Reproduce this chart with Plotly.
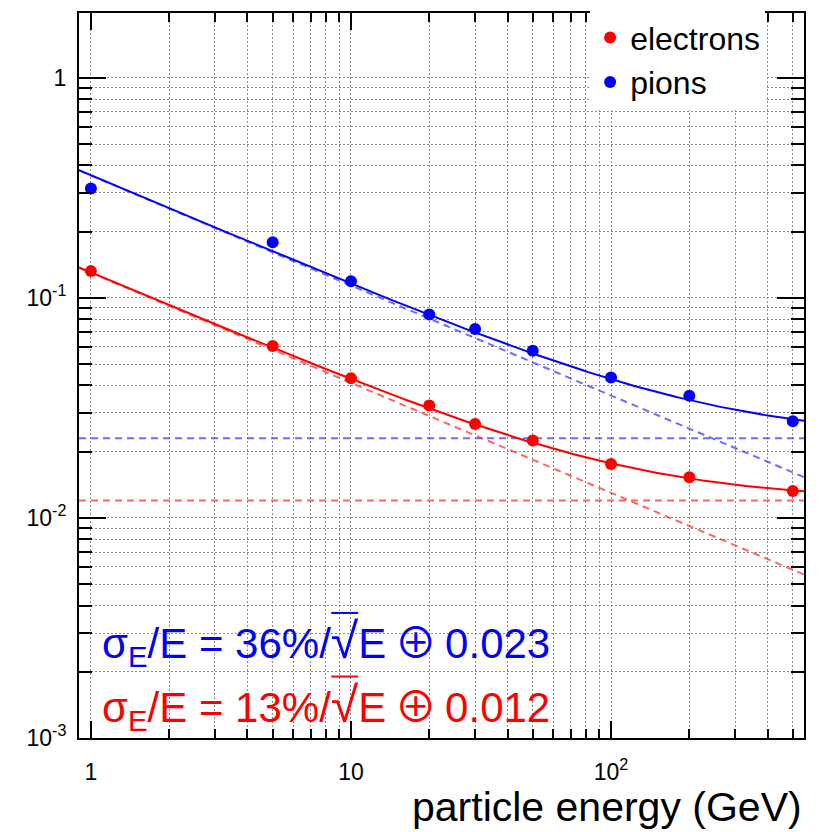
import numpy as np
import plotly.graph_objects as go

# Beam energies (GeV) and measured relative energy resolution
energy = [1, 5, 10, 20, 30, 50, 100, 200, 500]
res_electrons = [0.1323, 0.0604, 0.0431, 0.0324, 0.0267, 0.0225, 0.0176, 0.0153, 0.01325]
res_pions = [0.314, 0.179, 0.119, 0.0840, 0.0722, 0.0575, 0.0435, 0.0359, 0.0275]

# Fit parameters: sigma_E/E = a/sqrt(E) (+) b
fit_electrons = {"a": 0.13, "b": 0.012}
fit_pions = {"a": 0.36, "b": 0.023}

x_min, x_max = 0.9, 552.0
y_min, y_max = 1e-3, 1.97

major_x = [1, 10, 100]
major_x_text = ["1", "10", "10<sup>2</sup>"]
minor_x = [2, 3, 4, 5, 6, 7, 8, 9, 20, 30, 40, 50, 60, 70, 80, 90, 200, 300, 400, 500]
major_y = [1e-3, 1e-2, 1e-1, 1]
major_y_text = ["10<sup>-3</sup>", "10<sup>-2</sup>", "10<sup>-1</sup>", "1"]
minor_y = [m * d for d in (1e-3, 1e-2, 1e-1) for m in range(2, 10)]

RED = "#ff0000"
BLUE = "#0000ff"
FONT = "Liberation Sans, Arial, Helvetica, sans-serif"

e_fine = np.logspace(np.log10(x_min), np.log10(x_max), 300)

fig = go.Figure()

for fit, solid, light in ((fit_pions, BLUE, "rgba(60,60,255,0.75)"),
                          (fit_electrons, RED, "rgba(255,50,50,0.75)")):
    stoch = fit["a"] / np.sqrt(e_fine)
    const = np.full_like(e_fine, fit["b"])
    total = np.sqrt(stoch ** 2 + const ** 2)
    for comp in (stoch, const):
        fig.add_trace(go.Scatter(x=e_fine, y=comp, mode="lines", showlegend=False,
                                 hoverinfo="skip",
                                 line=dict(color=light, width=2, dash="7px,5px")))
    fig.add_trace(go.Scatter(x=e_fine, y=total, mode="lines", showlegend=False,
                             hoverinfo="skip", line=dict(color=solid, width=2)))

fig.add_trace(go.Scatter(x=energy, y=res_electrons, mode="markers", name="electrons",
                         marker=dict(color=RED, size=12)))
fig.add_trace(go.Scatter(x=energy, y=res_pions, mode="markers", name="pions",
                         marker=dict(color=BLUE, size=12)))

grid = dict(gridcolor="#8c8c8c", gridwidth=1, griddash="2px,2px")

fig.update_xaxes(
    type="log", range=[np.log10(x_min), np.log10(x_max)],
    tickmode="array", tickvals=major_x, ticktext=major_x_text,
    ticks="inside", ticklen=17, tickwidth=1.5, tickcolor="black",
    showline=True, linecolor="black", linewidth=2, mirror="allticks",
    showgrid=True, zeroline=False, ticklabelstandoff=12,
    tickfont=dict(family=FONT, size=23, color="black"),
    minor=dict(tickmode="array", tickvals=minor_x, ticks="inside", ticklen=9,
               tickwidth=1.5, tickcolor="black", showgrid=True, **grid),
    **grid,
)
fig.update_yaxes(
    type="log", range=[np.log10(y_min), np.log10(y_max)],
    tickmode="array", tickvals=major_y, ticktext=major_y_text,
    ticks="inside", ticklen=27, tickwidth=1.5, tickcolor="black",
    showline=True, linecolor="black", linewidth=2, mirror="allticks",
    showgrid=True, zeroline=False, ticklabelstandoff=6,
    tickfont=dict(family=FONT, size=23, color="black"),
    minor=dict(tickmode="array", tickvals=minor_y, ticks="inside", ticklen=13,
               tickwidth=1.5, tickcolor="black", showgrid=True, **grid),
    **grid,
)


def resolution_label(fit):
    """Fit formula text: sigma_E/E = a/sqrt(E) (+) b."""
    return ("σ<sub>E</sub>/E = %d%%/<span style='font-size:50px'>√</span>E\u2009"
            "<span style=\"font-family:'Noto Sans CJK SC';font-size:42px\">⊕</span>\u2009%.3f"
            % (round(fit["a"] * 100), fit["b"]))


label_rows = [(fit_pions, BLUE, 0.134, 0.1725), (fit_electrons, RED, 0.045, 0.0848)]
for fit, color, ypos, bar_y in label_rows:
    fig.add_annotation(text=resolution_label(fit), xref="paper", yref="paper",
                       x=0.029, y=ypos, xanchor="left", yanchor="middle", showarrow=False,
                       font=dict(family=FONT, size=42, color=color))
    # vinculum of the square-root sign
    fig.add_shape(type="line", xref="paper", yref="paper",
                  x0=0.348, x1=0.385, y0=bar_y, y1=bar_y,
                  line=dict(color=color, width=2))

fig.add_annotation(text="particle energy (GeV)", xref="paper", yref="paper",
                   x=1.0, y=-0.095, xanchor="right", yanchor="middle", showarrow=False,
                   font=dict(family=FONT, size=41, color="black"))

fig.update_layout(
    width=819, height=832,
    margin=dict(l=79, r=15, t=10, b=94),
    paper_bgcolor="white", plot_bgcolor="white",
    showlegend=True,
    legend=dict(x=0.705, y=1.004, xanchor="left", yanchor="top",
                bgcolor="white", borderwidth=0,
                font=dict(family=FONT, size=32, color="black"),
                tracegroupgap=0),
    font=dict(family=FONT),
)

fig.write_html("out.html")
